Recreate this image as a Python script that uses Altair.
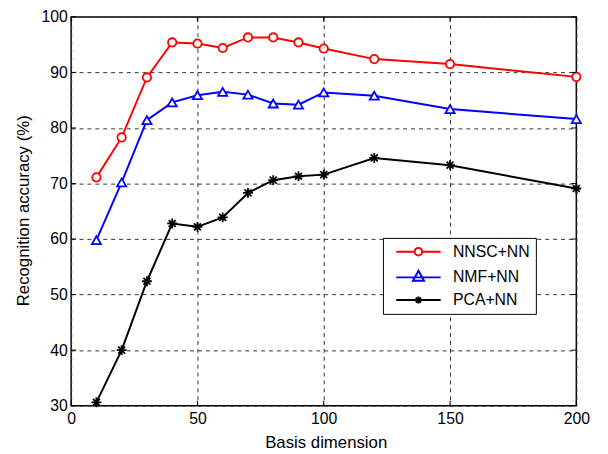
import altair as alt
import pandas as pd

# ---- data ----
dims = [10, 20, 30, 40, 50, 60, 70, 80, 90, 100, 120, 150, 200]
nnsc = [71.1, 78.3, 89.1, 95.4, 95.2, 94.4, 96.3, 96.3, 95.4, 94.3, 92.4, 91.5, 89.2]
nmf = [59.8, 70.2, 81.4, 84.6, 85.9, 86.5, 86.0, 84.4, 84.2, 86.4, 85.8, 83.4, 81.6]
pca = [30.6, 40.0, 52.4, 62.8, 62.2, 63.9, 68.3, 70.6, 71.3, 71.6, 74.6, 73.3, 69.1]
series_names = ["NNSC+NN", "NMF+NN", "PCA+NN"]
series_values = [nnsc, nmf, pca]
colors = ["#ff0000", "#0000ff", "#000000"]
x_ticks = [0, 50, 100, 150, 200]
y_ticks = [30, 40, 50, 60, 70, 80, 90, 100]

rows = []
for name, vals in zip(series_names, series_values):
    for d, v in zip(dims, vals):
        rows.append({"dim": d, "acc": v, "series": name})
df = pd.DataFrame(rows)
xt = pd.DataFrame({"dim": x_ticks})
yt = pd.DataFrame({"acc": y_ticks})

FONT = "Liberation Sans"
W, H = 512, 394

xscale = alt.Scale(domain=[0, 200], nice=False, zero=False)
yscale = alt.Scale(domain=[30, 100], nice=False, zero=False)

x_axis = alt.Axis(values=x_ticks, format="d", grid=True, gridDash=[4, 4],
                  gridColor="#333333", gridWidth=1, domain=False, ticks=False,
                  labelFont=FONT, labelFontSize=16, labelColor="black",
                  labelPadding=5, title="Basis dimension", titleFont=FONT,
                  titleFontSize=17, titleFontWeight="normal", titleColor="black",
                  titleX=258, titleY=42, titleBaseline="alphabetic",
                  labelFlush=False)
y_axis = alt.Axis(values=y_ticks, format="d", grid=True, gridDash=[4, 4],
                  gridColor="#333333", gridWidth=1, domain=False, ticks=False,
                  labelFont=FONT, labelFontSize=16, labelColor="black",
                  labelPadding=4, title="Recognition accuracy (%)", titleFont=FONT,
                  titleFontSize=17, titleFontWeight="normal", titleColor="black",
                  titleX=-48, titleY=196, titleBaseline="middle", titleAngle=270,
                  labelFlush=False)


def X():
    return alt.X("dim:Q", scale=xscale, axis=x_axis)


def Y():
    return alt.Y("acc:Q", scale=yscale, axis=y_axis)


color_scale = alt.Scale(domain=series_names, range=colors)

asterisk = "M0,-1L0,1M-1,0L1,0M-0.7,-0.7L0.7,0.7M-0.7,0.7L0.7,-0.7"
marker_shapes = ["circle", "triangle-up", asterisk]
marker_sizes = [72, 100, 64]

# legend symbols: line + marker (unit = 4.5 px)
leg_nnsc = ("M-0.111,0H4.039M5.739,0H9.889"
            "M4.039,0A0.85,0.85 0 1,0 5.739,0A0.85,0.85 0 1,0 4.039,0")
leg_nmf = "M-0.111,0H9.889M4.889,-1.5L6.139,0.75L3.639,0.75Z"
leg_pca = ("M-0.111,0H9.889M4.889,-0.8V0.8"
           "M4.289,-0.55L5.489,0.55M4.289,0.55L5.489,-0.55")
legend_shapes = [leg_nnsc, leg_nmf, leg_pca]

base = alt.Chart(df)

lines = base.mark_line(strokeWidth=2).encode(
    x=X(), y=Y(),
    color=alt.Color("series:N", scale=color_scale, legend=None),
    detail="series:N",
)

points = base.mark_point(filled=False, fill="white", strokeWidth=1.8, opacity=1).encode(
    x=X(), y=Y(),
    color=alt.Color("series:N", scale=color_scale, legend=None),
    shape=alt.Shape("series:N", scale=alt.Scale(domain=series_names, range=marker_shapes), legend=None),
    size=alt.Size("series:N", scale=alt.Scale(domain=series_names, range=marker_sizes), legend=None),
)

leg_props = dict(
    orient="none", legendX=316, legendY=224, padding=6, strokeColor="black",
    fillColor="white", title=None, labelFont=FONT, labelFontSize=16,
    labelColor="black", symbolSize=81, symbolStrokeWidth=2, labelOffset=49,
    rowPadding=7, symbolOpacity=1, cornerRadius=0,
)

legend_layer = base.mark_point(filled=False, strokeWidth=2, size=81).encode(
    x=X(), y=Y(),
    color=alt.Color("series:N", scale=color_scale, legend=alt.Legend(**leg_props)),
    shape=alt.Shape("series:N", scale=alt.Scale(domain=series_names, range=legend_shapes),
                    legend=alt.Legend(**leg_props)),
).transform_filter("false")

tick_len = 5
xt_bottom = alt.Chart(xt).mark_rule(color="black", strokeWidth=1).encode(
    x=X(), y=alt.value(H), y2=alt.value(H - tick_len),
)
xt_top = alt.Chart(xt).mark_rule(color="black", strokeWidth=1).encode(
    x=X(), y=alt.value(0), y2=alt.value(tick_len),
)
yt_left = alt.Chart(yt).mark_rule(color="black", strokeWidth=1).encode(
    y=Y(), x=alt.value(0), x2=alt.value(tick_len),
)
yt_right = alt.Chart(yt).mark_rule(color="black", strokeWidth=1).encode(
    y=Y(), x=alt.value(W), x2=alt.value(W - tick_len),
)

chart = alt.layer(
    lines, points, legend_layer, xt_bottom, xt_top, yt_left, yt_right
).resolve_scale(
    color="independent", shape="independent", size="independent"
).properties(
    width=W, height=H,
    autosize=alt.AutoSizeParams(type="none"),
    padding={"left": 64, "top": 6, "right": 24, "bottom": 46},
    background="white",
).configure_view(stroke="black", strokeWidth=1.5)

chart.save("out.html", embed_options={"renderer": "svg", "actions": False})
